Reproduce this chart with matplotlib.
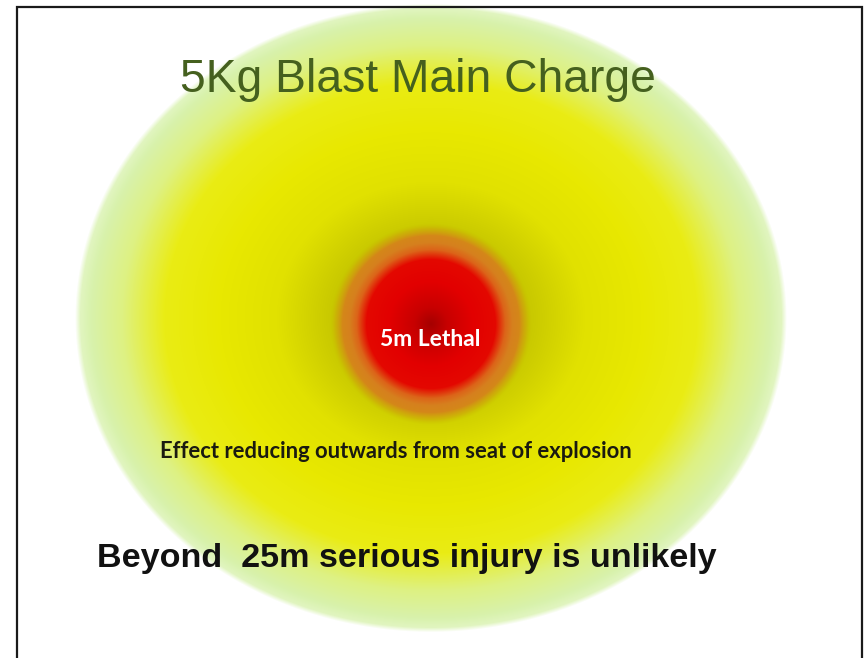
import numpy as np
import matplotlib
matplotlib.use("Agg")
import matplotlib.pyplot as plt
from matplotlib.patches import Rectangle

# ── data ──────────────────────────────────────────────────────────────────────
CHARGE_KG   = 5
LETHAL_M    = 5      # inner red zone
SAFE_M      = 25     # outer edge of the blast effect
TITLE       = f"{CHARGE_KG}Kg Blast Main Charge"
LETHAL_TXT  = f"{LETHAL_M}m Lethal"
EFFECT_TXT  = "Effect reducing outwards from seat of explosion"
BEYOND_TXT  = f"Beyond  {SAFE_M}m serious injury is unlikely"

# ── layout (px → metres) ──────────────────────────────────────────────────────
W, H = 865, 658
CX, CY = 431, 318            # seat of explosion in pixels (from top-left)
PX_PER_M = 351 / SAFE_M      # horizontal semi-axis of the blast ellipse
Y_SQUASH = 310 / 351         # ellipse is a little flatter than wide

x0, x1 = -CX / PX_PER_M, (W - CX) / PX_PER_M
y0, y1 = -(H - CY) / PX_PER_M, CY / PX_PER_M

# outer gradient stops (normalised ellipse radius → rgb)
OUT_T   = [0.00, 0.28, 0.44, 0.60, 0.76, 0.88, 0.97, 1.00, 1.015]
OUT_RGB = [(180, 175, 0), (200, 200, 0), (225, 225, 0), (232, 232, 0),
           (234, 236, 20), (222, 241, 130), (216, 242, 172), (225, 245, 192),
           (255, 255, 255)]

# inner (circular) gradient stops in metres → rgb, alpha
IN_R   = [0.0, 1.2, 3.0, 4.6, 5.3, 5.8, 6.3, 6.8, 7.2]
IN_RGB = [(165, 0, 0), (200, 0, 0), (226, 0, 0), (228, 8, 0),
          (220, 100, 25), (214, 128, 30), (212, 135, 25), (205, 165, 10),
          (200, 192, 0)]
IN_A   = [1, 1, 1, 1, 1, 1, 1, 0.6, 0.0]


def interp_rgb(v, stops, cols):
    cols = np.array(cols, dtype=float) / 255
    return np.stack([np.interp(v, stops, cols[:, i]) for i in range(3)], axis=-1)


xs = np.linspace(x0, x1, W)
ys = np.linspace(y1, y0, H)
X, Y = np.meshgrid(xs, ys)

t = np.sqrt((X / SAFE_M) ** 2 + (Y / (SAFE_M * Y_SQUASH)) ** 2)
outer = interp_rgb(t, OUT_T, OUT_RGB)

ry = Y + 6 / PX_PER_M        # red disc sits a few px below ellipse centre
r = np.sqrt(X ** 2 + ry ** 2)
inner = interp_rgb(r, IN_R, IN_RGB)
a = np.interp(r, IN_R, IN_A)[..., None]
img = inner * a + outer * (1 - a)

# ── plot ──────────────────────────────────────────────────────────────────────
fig = plt.figure(figsize=(W / 100, H / 100), dpi=100)
ax = fig.add_axes([0, 0, 1, 1])
ax.imshow(img, extent=(x0, x1, y0, y1), origin="upper", aspect="auto",
          interpolation="bilinear")
ax.set_xlim(x0, x1)
ax.set_ylim(y0, y1)
ax.axis("off")


def px(xp, yp):
    return (xp - CX) / PX_PER_M, (CY - yp) / PX_PER_M


ax.text(*px(418, 80), TITLE, ha="center", va="center", fontsize=33.3,
        family="Liberation Sans", color="#45601e")
ax.text(*px(430, 340), LETHAL_TXT, ha="center", va="center", fontsize=16.5,
        family="Lato", weight="bold", color="white")
ax.text(*px(396, 452), EFFECT_TXT, ha="center", va="center", fontsize=15.8,
        family="Lato", weight="bold", color="#1a1a10")
ax.text(*px(407, 559), BEYOND_TXT, ha="center", va="center", fontsize=24.6,
        family="Liberation Sans", weight="bold", color="#111111")

# frame: bottom edge is cropped off in the reference
fig.add_artist(Rectangle((17 / W, -0.05), 845 / W, 1.05 - 7 / H,
                         transform=fig.transFigure, fill=False,
                         edgecolor="#1a1a1a", lw=1.6))

fig.savefig("out.png", dpi=100)
